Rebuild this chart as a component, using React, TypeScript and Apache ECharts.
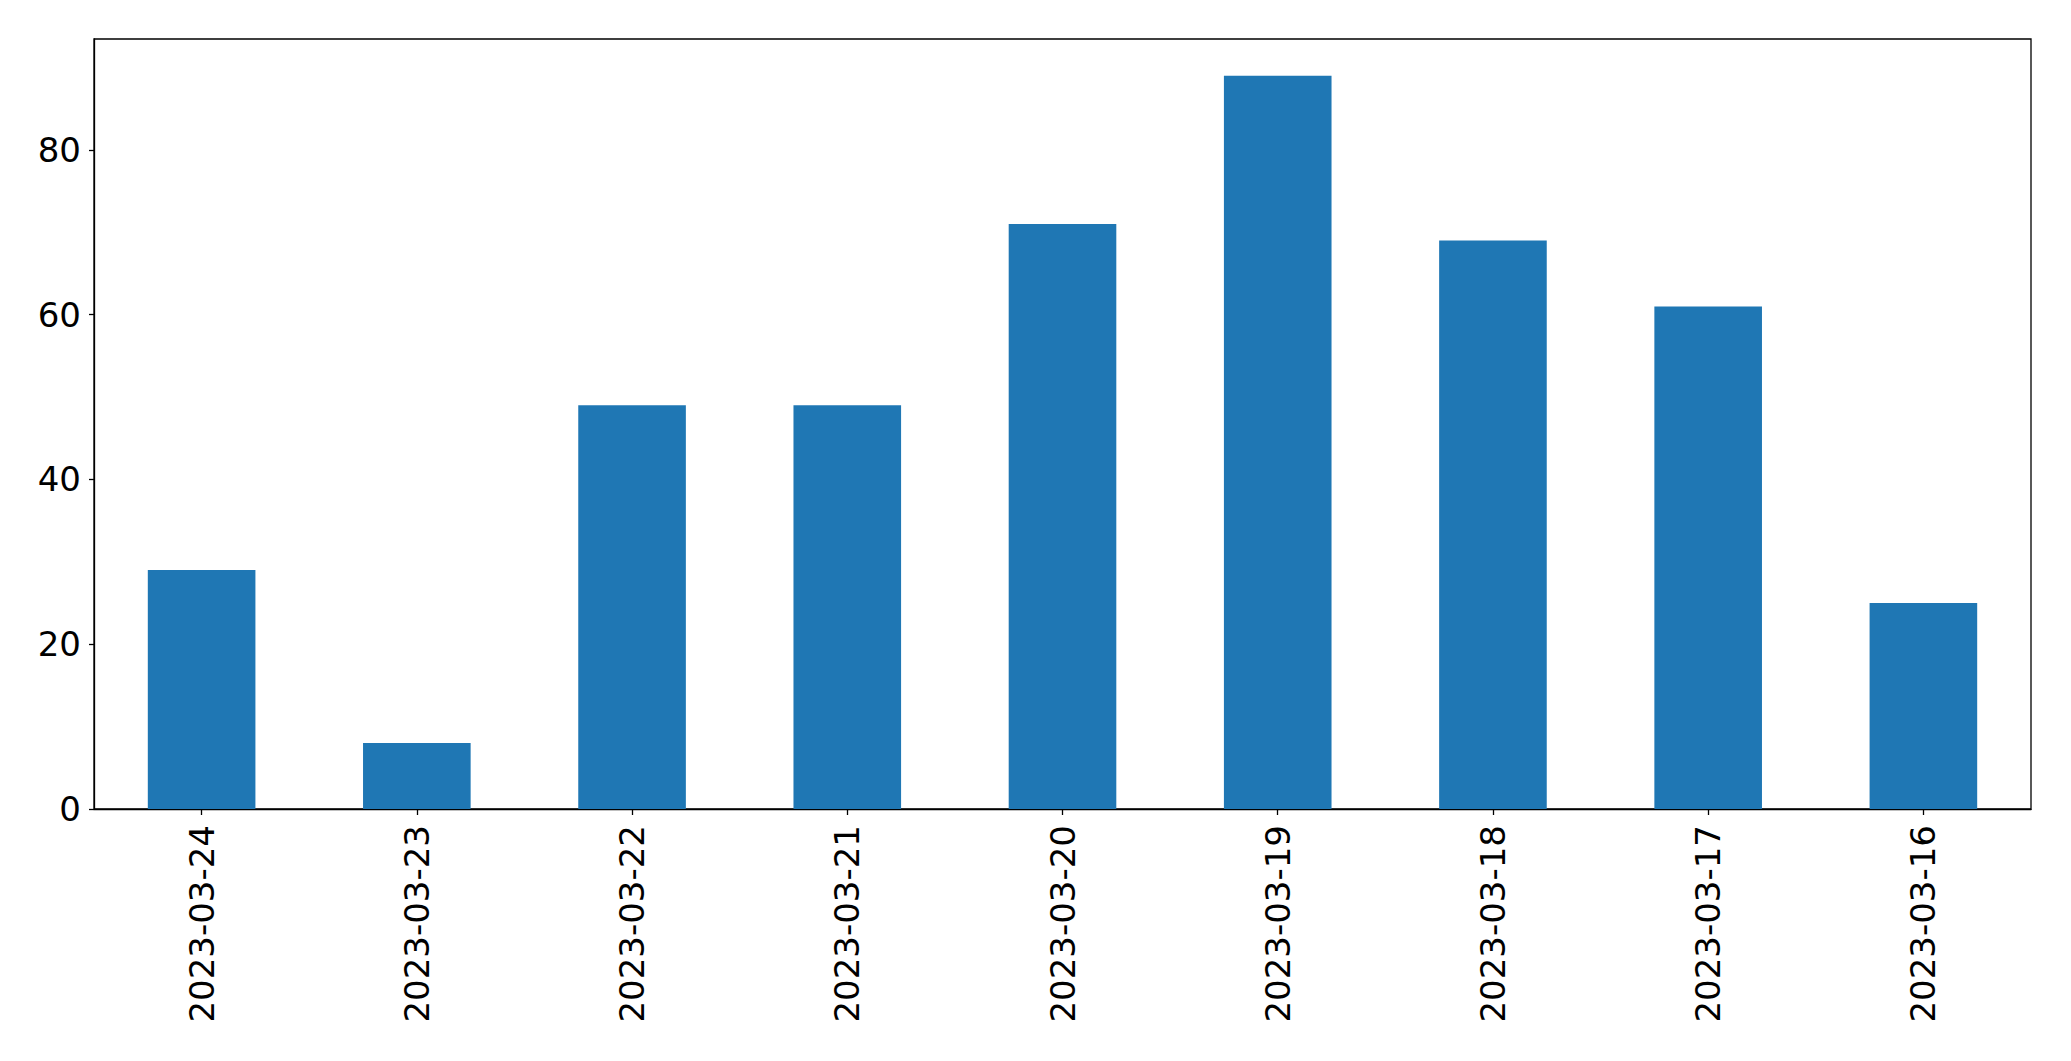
import React, { useEffect, useRef } from "react";
import * as echarts from "echarts";

const categories = [
  "2023-03-24",
  "2023-03-23",
  "2023-03-22",
  "2023-03-21",
  "2023-03-20",
  "2023-03-19",
  "2023-03-18",
  "2023-03-17",
  "2023-03-16",
];
const values = [29, 8, 49, 49, 71, 89, 69, 61, 25];
const yTicks = [0, 20, 40, 60, 80];

export default function App() {
  const ref = useRef<HTMLDivElement>(null);
  useEffect(() => {
    if (!ref.current) return;
    const chart = echarts.init(ref.current, null, { renderer: "svg" });
    const yMax = Math.max(...values) * 1.05;
    const font = "DejaVu Sans";
    chart.setOption({
      animation: false,
      backgroundColor: "#ffffff",
      grid: {
        left: 94,
        top: 39,
        width: 1937,
        height: 770,
        show: true,
        borderColor: "#000000",
        borderWidth: 1.3,
        backgroundColor: "transparent",
        containLabel: false,
      },
      xAxis: {
        type: "category",
        data: categories,
        axisLine: { show: true, lineStyle: { color: "#000000", width: 1.3 } },
        axisTick: { show: true, alignWithLabel: true, length: 6, lineStyle: { color: "#000000", width: 1.3 } },
        axisLabel: {
          rotate: 90,
          margin: 16,
          fontSize: 34,
          fontFamily: font,
          color: "#000000",
          interval: 0,
        },
        splitLine: { show: false },
      },
      yAxis: {
        type: "value",
        min: 0,
        max: yMax,
        interval: 20,
        axisLine: { show: true, lineStyle: { color: "#000000", width: 1.3 } },
        axisTick: {
          show: true,
          length: 5,
          lineStyle: { color: "#000000", width: 1.3 },
          customValues: yTicks,
        },
        axisLabel: {
          margin: 13,
          fontSize: 34,
          fontFamily: font,
          color: "#000000",
          customValues: yTicks,
        },
        splitLine: { show: false },
      },
      series: [
        {
          type: "bar",
          data: values,
          barWidth: "50%",
          itemStyle: { color: "#1f77b4" },
        },
      ],
    });
    return () => chart.dispose();
  }, []);
  return (
    <div
      ref={ref}
      style={{ position: "fixed", left: 0, top: 0, width: 2071, height: 1061, background: "#fff" }}
    />
  );
}
